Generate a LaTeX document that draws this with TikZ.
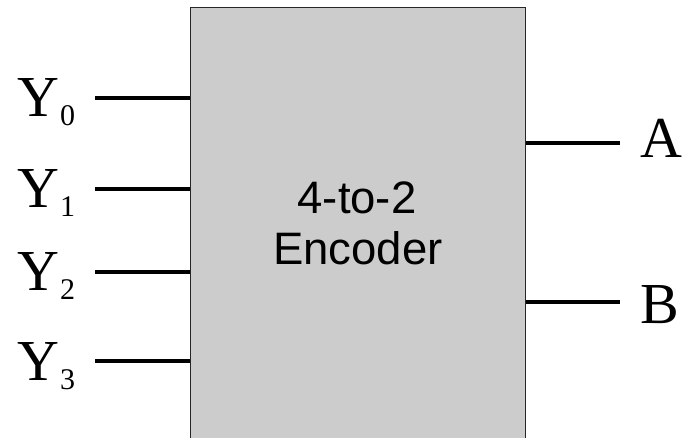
\documentclass[tikz,border=0pt]{standalone}
\usepackage{fontspec}
\setmainfont{Liberation Serif}
\newfontfamily\labelsans{Liberation Sans}
\begin{document}
\begin{tikzpicture}[x=1pt,y=-1pt,
  wire/.style={line width=3.5pt,black},
  pin/.style={inner sep=0pt,font=\fontsize{58}{58}\selectfont},
  boxtext/.style={inner sep=0pt,anchor=base,font=\labelsans\fontsize{45.5}{51}\selectfont},
]
\newcommand{\sublbl}[1]{\raisebox{-9pt}{\kern1pt\fontsize{30}{30}\selectfont #1}}
\useasboundingbox (0,0) rectangle (686,437);
\clip (0,0) rectangle (686,437);

% encoder body (runs past the lower edge)
\node[draw=black!85,line width=1.5pt,fill=black!20,minimum width=335pt,
      minimum height=440pt,inner sep=0pt] (enc) at (358,227.5) {};
\node[boxtext] (t1) at (357,213) {4-to-2};
\node[boxtext] (t2) at (358,264) {Encoder};

% inputs
\node[pin,anchor=base west] (y0) at (17,116) {Y\sublbl{0}};
\node[pin,anchor=base west] (y1) at (17,207) {Y\sublbl{1}};
\node[pin,anchor=base west] (y2) at (17,290) {Y\sublbl{2}};
\node[pin,anchor=base west] (y3) at (17,380) {Y\sublbl{3}};
\coordinate (i0) at (95,98);
\coordinate (i1) at (95,189);
\coordinate (i2) at (95,272);
\coordinate (i3) at (95,361);
\foreach \k in {0,1,2,3} \draw[wire] (i\k) -- (i\k -| enc.west);

% outputs
\node[pin,anchor=base west] (a) at (640,157) {A};
\node[pin,anchor=base west] (b) at (640,323) {B};
\coordinate (oa) at (620,143);
\coordinate (ob) at (620,302);
\draw[wire] (oa -| enc.east) -- (oa);
\draw[wire] (ob -| enc.east) -- (ob);
\end{tikzpicture}
\end{document}
